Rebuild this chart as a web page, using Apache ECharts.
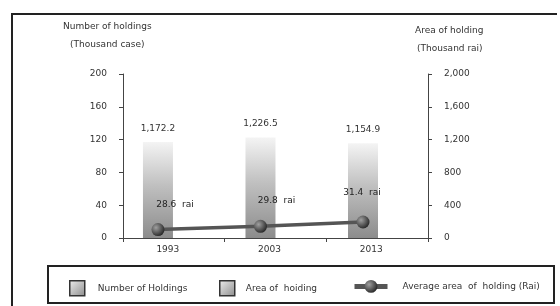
<!DOCTYPE html>
<html>
<head>
<meta charset="utf-8">
<script src="https://cdn.jsdelivr.net/npm/echarts@6/dist/echarts.min.js"></script>
<style>
  html, body { margin: 0; padding: 0; background: #fff; }
  #chart { width: 560px; height: 306px; }
</style>
</head>
<body>
<div id="chart"></div>
<script>
// data
const years = ['1993', '2003', '2013'];
const areaOfHolding = [1172.2, 1226.5, 1154.9];   // thousand rai, right axis
const avgArea = [28.6, 29.8, 31.4];               // rai per holding
const numberOfHoldings = [];                      // not readable in the picture
const leftTicks = [0, 40, 80, 120, 160, 200];
const rightTicks = [0, 400, 800, 1200, 1600, 2000];

const font = 'DejaVu Sans';
const txt = '#333';

// label offsets for the "rai" labels (style only)
const raiOffsets = [[17, -9], [16, -10], [-1, -13]];

const chart = echarts.init(document.getElementById('chart'));

const barColor = new echarts.graphic.LinearGradient(0, 0, 0, 1, [
    { offset: 0, color: '#f4f4f4' },
    { offset: 0.45, color: '#c0c0c0' },
    { offset: 1, color: '#8c8c8c' }
]);
const iconColor = new echarts.graphic.LinearGradient(0, 0, 1, 1, [
    { offset: 0, color: '#f0f0f0' },
    { offset: 1, color: '#8a8a8a' }
]);
const ballColor = new echarts.graphic.RadialGradient(0.35, 0.35, 0.7, [
    { offset: 0, color: '#a0a0a0' },
    { offset: 1, color: '#262626' }
]);

function fmt(v) {
    return v.toLocaleString('en-US', { minimumFractionDigits: 1, maximumFractionDigits: 1 });
}

const axisCommon = {
    axisLine: { show: true, onZero: false, lineStyle: { color: '#444' } },
    axisTick: { show: true, length: 4, lineStyle: { color: '#444' } },
    splitLine: { show: false }
};

const option = {
    backgroundColor: '#fff',
    animation: false,
    textStyle: { fontFamily: font },
    graphic: [
        { type: 'polyline', shape: { points: [[12, 310], [12, 14], [557, 14]] },
          style: { fill: 'none', stroke: '#222', lineWidth: 2 } },
        { type: 'rect', shape: { x: 48, y: 266, width: 506, height: 37 },
          style: { fill: 'none', stroke: '#222', lineWidth: 2 } },
        { type: 'text', left: 63, top: 22, style: { text: 'Number of holdings', font: '9px ' + font, fill: txt } },
        { type: 'text', left: 70, top: 40, style: { text: '(Thousand case)', font: '9px ' + font, fill: txt } },
        { type: 'text', left: 415, top: 26, style: { text: 'Area of holding', font: '9px ' + font, fill: txt } },
        { type: 'text', left: 417, top: 44, style: { text: '(Thousand rai)', font: '9px ' + font, fill: txt } }
    ],
    legend: [
        { data: [{ name: 'Number of Holdings', icon: 'rect' }], left: 64, top: 275, itemWidth: 15, itemHeight: 15,
          itemStyle: { color: iconColor, borderColor: '#333', borderWidth: 1.5 },
          textStyle: { fontFamily: font, fontSize: 9, color: txt, padding: [0, 0, 0, 8] } },
        { data: [{ name: 'Area of  hoiding', icon: 'rect' }], left: 214, top: 275, itemWidth: 15, itemHeight: 15,
          itemStyle: { color: iconColor, borderColor: '#333', borderWidth: 1.5 },
          textStyle: { fontFamily: font, fontSize: 9, color: txt, padding: [0, 0, 0, 6] } },
        { data: ['Average area  of  holding (Rai)'], left: 347, top: 275, itemWidth: 33, itemHeight: 16,
          lineStyle: { width: 5, color: '#555' },
          textStyle: { fontFamily: font, fontSize: 9, color: txt, padding: [0, 0, 0, 10] } }
    ],
    grid: { left: 123, right: 132, top: 74, bottom: 68 },
    xAxis: [
        {
            type: 'category',
            data: years,
            axisLine: { lineStyle: { color: '#444' } },
            axisTick: { show: true, length: 4, lineStyle: { color: '#444' } },
            axisLabel: { color: txt, fontSize: 9, margin: 7, padding: [0, 12, 0, 0] }
        },
        {
            // hidden axis that carries the marks, so bars sit where the scan has them
            type: 'value',
            min: -0.341,
            max: 2.634,
            show: false
        }
    ],
    yAxis: [
        Object.assign({
            type: 'value', min: 0, max: 200, interval: 40,
            axisLabel: { color: txt, fontSize: 9, margin: 16, customValues: leftTicks }
        }, axisCommon),
        Object.assign({
            type: 'value', min: 0, max: 2000, interval: 400, position: 'right',
            axisLabel: { color: txt, fontSize: 9, margin: 16, customValues: rightTicks,
                formatter: v => v.toLocaleString('en-US') }
        }, axisCommon),
        { type: 'value', min: 25.5, max: 86, show: false }
    ],
    series: [
        {
            name: 'Number of Holdings',
            type: 'bar',
            xAxisIndex: 1, yAxisIndex: 0,
            barWidth: 30,
            barGap: '-100%',
            itemStyle: { color: iconColor, borderColor: '#333', borderWidth: 1.5 },
            data: numberOfHoldings.map((v, i) => [i, v])
        },
        {
            name: 'Area of  hoiding',
            type: 'bar',
            xAxisIndex: 1, yAxisIndex: 1,
            barWidth: 30,
            barGap: '-100%',
            itemStyle: { color: barColor },
            label: { show: true, position: 'top', distance: 9, fontSize: 9, color: txt,
                formatter: p => fmt(p.value[1]) },
            data: areaOfHolding.map((v, i) => [i, v])
        },
        {
            name: 'Average area  of  holding (Rai)',
            type: 'line',
            xAxisIndex: 1, yAxisIndex: 2,
            symbol: 'circle',
            symbolSize: 13,
            lineStyle: { color: '#555', width: 3.5 },
            itemStyle: { color: ballColor },
            data: avgArea.map((v, i) => ({
                value: [i, v],
                label: { show: true, position: 'top', offset: raiOffsets[i], fontSize: 9, color: '#222',
                    formatter: v + '  rai' }
            }))
        }
    ]
};

chart.setOption(option);
</script>
</body>
</html>
